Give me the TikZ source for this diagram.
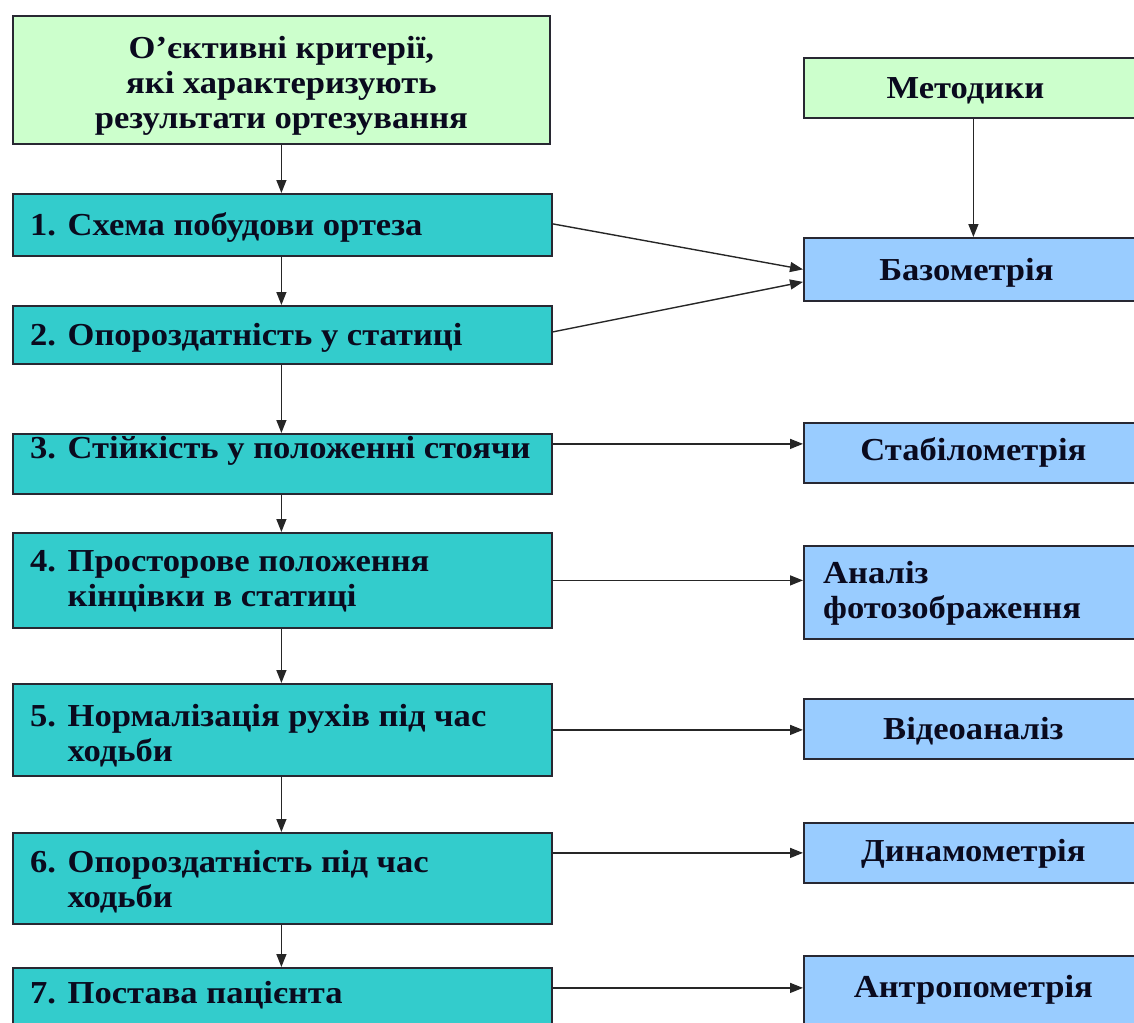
\documentclass[tikz,border=0pt]{standalone}
\usepackage{fontspec}
\setmainfont{Liberation Serif}[FakeStretch=1.08]
\usetikzlibrary{arrows.meta,calc}
\definecolor{crit}{RGB}{204,255,204}
\definecolor{tealbox}{RGB}{51,204,204}
\definecolor{meth}{RGB}{153,204,255}
\definecolor{ink}{RGB}{10,10,30}
\definecolor{edgec}{RGB}{40,40,50}
\begin{document}
\begin{tikzpicture}[x=1pt,y=-1pt,
  box/.style={draw=edgec,line width=1.8pt,inner sep=0pt,anchor=north west},
  critbox/.style={box,fill=crit},
  leftbox/.style={box,fill=tealbox,minimum width=539pt},
  rightbox/.style={box,fill=meth,minimum width=339pt},
  txt/.style={font=\bfseries\fontsize{32}{35}\selectfont,text=ink,inner sep=0pt},
  arr/.style={-{Triangle[length=13pt,width=10pt]},line width=1.4pt,draw=black!85}
]
\clip (0,0) rectangle (1134,1022);
% left column
\node[critbox,minimum width=537pt,minimum height=128pt] (top) at (12,15) {};
\node[leftbox,minimum height=62pt] (b1) at (12,193) {};
\node[leftbox,minimum height=58pt] (b2) at (12,305) {};
\node[leftbox,minimum height=60pt] (b3) at (12,433) {};
\node[leftbox,minimum height=95pt] (b4) at (12,532) {};
\node[leftbox,minimum height=92pt] (b5) at (12,683) {};
\node[leftbox,minimum height=91pt] (b6) at (12,832) {};
\node[leftbox,minimum height=63pt] (b7) at (12,967) {};
% right column
\node[critbox,minimum width=339pt,minimum height=60pt] (m) at (803,57) {};
\node[rightbox,minimum height=63pt] (r1) at (803,237) {};
\node[rightbox,minimum height=60pt] (r2) at (803,422) {};
\node[rightbox,minimum height=93pt] (r3) at (803,545) {};
\node[rightbox,minimum height=60pt] (r4) at (803,698) {};
\node[rightbox,minimum height=60pt] (r5) at (803,822) {};
\node[rightbox,minimum height=75pt] (r6) at (803,955) {};
% texts
\node[txt,align=center] (ttop) at ([yshift=-6pt]top.center) {О’єктивні критерії,\\ які характеризують\\ результати ортезування};
\node[txt,anchor=west] (t1) at ([xshift=18pt,yshift=-3pt]b1.west) {1. Схема побудови ортеза};
\node[txt,anchor=west] (t2) at ([xshift=18pt,yshift=-3pt]b2.west) {2. Опороздатність у статиці};
\node[txt,anchor=west] (t3) at ([xshift=18pt,yshift=13pt]b3.west) {3. Стійкість у положенні стоячи};
\node[txt,anchor=west] (t4) at ([xshift=18pt,yshift=-2pt]b4.west) {\begin{tabular}{@{}l@{ }l@{}}4. & Просторове положення\\ & кінцівки в статиці\end{tabular}};
\node[txt,anchor=west] (t5) at ([xshift=18pt,yshift=-7pt]b5.west) {\begin{tabular}{@{}l@{ }l@{}}5. & Нормалізація рухів під час\\ & ходьби\end{tabular}};
\node[txt,anchor=west] (t6) at ([xshift=18pt,yshift=-5pt]b6.west) {\begin{tabular}{@{}l@{ }l@{}}6. & Опороздатність під час\\ & ходьби\end{tabular}};
\node[txt,anchor=west] (t7) at ([xshift=18pt,yshift=4pt]b7.west) {7. Постава пацієнта};
\node[txt] (tm) at ([xshift=-8pt,yshift=-3pt]m.center) {Методики};
\node[txt] (tr1) at ([xshift=-7pt,yshift=-3pt]r1.center) {Базометрія};
\node[txt] (tr2) at ([yshift=0pt]r2.center) {Стабілометрія};
\node[txt,anchor=west,align=left] (tr3) at ([xshift=20pt,yshift=-1pt]r3.west) {Аналіз\\фотозображення};
\node[txt] (tr4) at ([yshift=-2pt]r4.center) {Відеоаналіз};
\node[txt] (tr5) at ([yshift=-1pt]r5.center) {Динамометрія};
\node[txt] (tr6) at ([yshift=4pt]r6.center) {Антропометрія};
% helper coordinates
\coordinate (a2) at ([yshift=9pt]r2.west);
\coordinate (a6) at ([yshift=5.5pt]r6.west);
% vertical arrows
\draw[arr] (top.south) -- (top.south |- b1.north);
\draw[arr] (top.south |- b1.south) -- (top.south |- b2.north);
\draw[arr] (top.south |- b2.south) -- (top.south |- b3.north);
\draw[arr] (top.south |- b3.south) -- (top.south |- b4.north);
\draw[arr] (top.south |- b4.south) -- (top.south |- b5.north);
\draw[arr] (top.south |- b5.south) -- (top.south |- b6.north);
\draw[arr] (top.south |- b6.south) -- (top.south |- b7.north);
\draw[arr] (m.south) -- (r1.north);
% horizontal arrows
\draw[arr] ([yshift=1pt]b1.east) -- (r1.west);
\draw[arr] ([yshift=3pt]b2.east) -- ([yshift=-12.5pt]r1.west);
\draw[arr] (a2 -| b3.east) -- (a2);
\draw[arr] (b4.east) -- (b4.east -| r3.west);
\draw[arr] (b5.east) -- (b5.east -| r4.west);
\draw[arr] (r5.west -| b6.east) -- (r5.west);
\draw[arr] (a6 -| b7.east) -- (a6);
\end{tikzpicture}
\end{document}
